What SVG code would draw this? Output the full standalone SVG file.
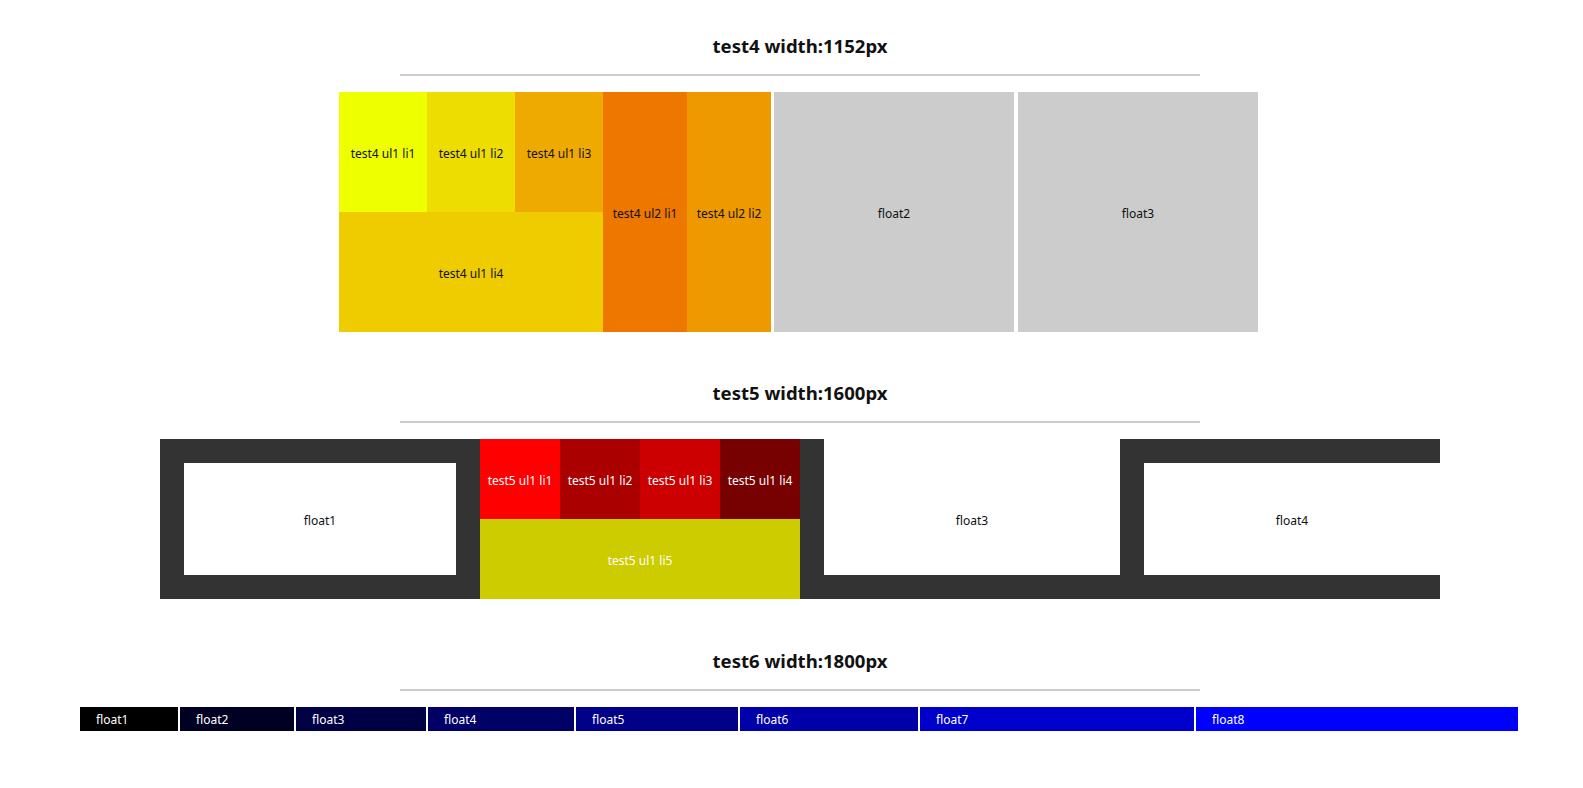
<svg xmlns="http://www.w3.org/2000/svg" width="1583" height="788" viewBox="0 0 1583 788">
<style>
.title{font-family:"Noto Sans","Liberation Sans",sans-serif;font-weight:bold;font-size:18px;fill:#111;text-anchor:middle}
.t{font-family:"Noto Sans","Liberation Sans",sans-serif;font-size:12px;text-anchor:middle;fill:#111}
.w{fill:#fff}
.tl{font-family:"Noto Sans","Liberation Sans",sans-serif;font-size:12px;fill:#fff}
.rule{fill:#cccccc}
</style>
<rect width="1583" height="788" fill="#fff"/>
<g id="test4">
<text class="title" x="800" y="53" textLength="175" lengthAdjust="spacingAndGlyphs">test4 width:1152px</text>
<rect class="rule" x="400" y="74" width="800" height="2"/>
<g id="t4-ul1-li1"><rect x="339" y="92" width="88" height="120" fill="#eeff00"/><text class="t" x="383" y="158">test4 ul1 li1</text></g>
<g id="t4-ul1-li2"><rect x="427" y="92" width="88" height="120" fill="#eedd00"/><text class="t" x="471" y="158">test4 ul1 li2</text></g>
<g id="t4-ul1-li3"><rect x="515" y="92" width="88" height="120" fill="#eeaa00"/><text class="t" x="559" y="158">test4 ul1 li3</text></g>
<g id="t4-ul1-li4"><rect x="339" y="212" width="264" height="120" fill="#eecc00"/><text class="t" x="471" y="278">test4 ul1 li4</text></g>
<g id="t4-ul2-li1"><rect x="603" y="92" width="84" height="240" fill="#ee7700"/><text class="t" x="645" y="218">test4 ul2 li1</text></g>
<g id="t4-ul2-li2"><rect x="687" y="92" width="84" height="240" fill="#ee9900"/><text class="t" x="729" y="218">test4 ul2 li2</text></g>
<g id="t4-float2"><rect x="774" y="92" width="240" height="240" fill="#cccccc"/><text class="t" x="894" y="218">float2</text></g>
<g id="t4-float3"><rect x="1018" y="92" width="240" height="240" fill="#cccccc"/><text class="t" x="1138" y="218">float3</text></g>
</g>
<g id="test5">
<text class="title" x="800" y="400" textLength="175" lengthAdjust="spacingAndGlyphs">test5 width:1600px</text>
<rect class="rule" x="400" y="421" width="800" height="2"/>
<g id="t5-float1"><rect x="160" y="439" width="320" height="160" fill="#333333"/><rect x="184" y="463" width="272" height="112" fill="#fff"/><text class="t" x="320" y="525">float1</text></g>
<g id="t5-li1"><rect x="480" y="439" width="80" height="80" fill="#ff0000"/><text class="t w" x="520" y="485">test5 ul1 li1</text></g>
<g id="t5-li2"><rect x="560" y="439" width="80" height="80" fill="#aa0000"/><text class="t w" x="600" y="485">test5 ul1 li2</text></g>
<g id="t5-li3"><rect x="640" y="439" width="80" height="80" fill="#cc0000"/><text class="t w" x="680" y="485">test5 ul1 li3</text></g>
<g id="t5-li4"><rect x="720" y="439" width="80" height="80" fill="#770000"/><text class="t w" x="760" y="485">test5 ul1 li4</text></g>
<g id="t5-li5"><rect x="480" y="519" width="320" height="80" fill="#cccc00"/><text class="t w" x="640" y="565">test5 ul1 li5</text></g>
<g id="t5-float3"><rect x="800" y="439" width="24" height="160" fill="#333333"/><rect x="824" y="575" width="296" height="24" fill="#333333"/><text class="t" x="972" y="525">float3</text></g>
<g id="t5-float4"><rect x="1120" y="439" width="24" height="160" fill="#333333"/><rect x="1144" y="439" width="296" height="24" fill="#333333"/><rect x="1144" y="575" width="296" height="24" fill="#333333"/><text class="t" x="1292" y="525">float4</text></g>
</g>
<g id="test6">
<text class="title" x="800" y="668" textLength="175" lengthAdjust="spacingAndGlyphs">test6 width:1800px</text>
<rect class="rule" x="400" y="689" width="800" height="2"/>
<g id="t6-float1"><rect x="80" y="707" width="98" height="24" fill="#000000"/><text class="tl" x="96" y="724">float1</text></g>
<g id="t6-float2"><rect x="180" y="707" width="114" height="24" fill="#000022"/><text class="tl" x="196" y="724">float2</text></g>
<g id="t6-float3"><rect x="296" y="707" width="130" height="24" fill="#000044"/><text class="tl" x="312" y="724">float3</text></g>
<g id="t6-float4"><rect x="428" y="707" width="146" height="24" fill="#000066"/><text class="tl" x="444" y="724">float4</text></g>
<g id="t6-float5"><rect x="576" y="707" width="162" height="24" fill="#000088"/><text class="tl" x="592" y="724">float5</text></g>
<g id="t6-float6"><rect x="740" y="707" width="178" height="24" fill="#0000aa"/><text class="tl" x="756" y="724">float6</text></g>
<g id="t6-float7"><rect x="920" y="707" width="274" height="24" fill="#0000cc"/><text class="tl" x="936" y="724">float7</text></g>
<g id="t6-float8"><rect x="1196" y="707" width="322" height="24" fill="#0000ff"/><text class="tl" x="1212" y="724">float8</text></g>
</g>
</svg>
